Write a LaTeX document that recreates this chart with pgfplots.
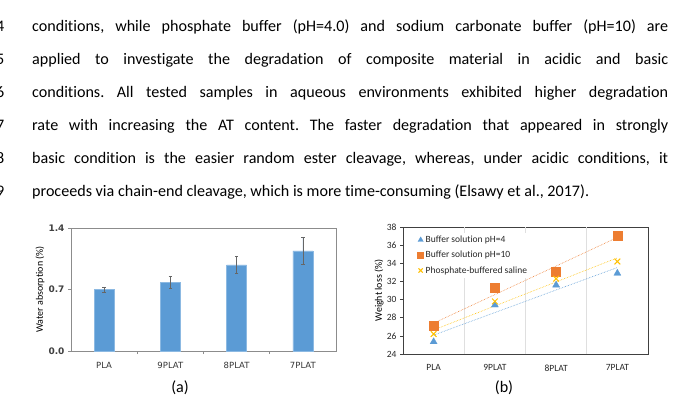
\documentclass[border=0pt]{standalone}
\usepackage{fontspec}
\setmainfont{Carlito}[Ligatures={NoCommon}]
\newfontfamily\dejavu{DejaVu Sans}
\usepackage{pgfplots}
\usepackage{pgfplotstable}
\pgfplotsset{compat=1.18}
\definecolor{xblue}{HTML}{5B9BD5}
\definecolor{xorange}{HTML}{ED7D31}
\definecolor{xyellow}{HTML}{FFC000}
\frenchspacing

\pgfplotstableread{
x y err
0 0.70 0.03
1 0.78 0.07
2 0.98 0.10
3 1.14 0.15
}\tableA

\pgfplotstableread{
x ph4 ph10 pbs
1 25.35 27.1 26.2
2 29.4 31.3 29.8
3 31.6 33.1 32.3
4 32.9 37.0 34.2
}\tableB

\newcommand{\bodyfont}{\fontsize{16.1bp}{19bp}\selectfont}
\newcommand{\lineat}[2]{\node[anchor=base west, inner sep=0pt] at (32bp,-#1bp) {\bodyfont\frenchspacing\makebox[636bp][s]{#2}};}

\begin{document}
\begin{tikzpicture}
\useasboundingbox (0,0) rectangle (681bp,-400bp);

% line numbers (left part cut off)
\foreach \n/\y in {54/31,55/64,56/97,57/130,58/163,59/196}{
  \node[anchor=base east, inner sep=0pt] at (4.5bp,-\y bp) {\bodyfont \n};
}
\lineat{31}{conditions, while phosphate buffer (pH=4.0) and sodium carbonate buffer (pH=10) are}
\lineat{64}{applied to investigate the degradation of composite material in acidic and basic}
\lineat{97}{conditions. All tested samples in aqueous environments exhibited higher degradation}
\lineat{130}{rate with increasing the AT content. The faster degradation that appeared in strongly}
\lineat{163}{basic condition is the easier random ester cleavage, whereas, under acidic conditions, it}
\node[anchor=base west, inner sep=0pt] at (32bp,-196bp) {\bodyfont\frenchspacing proceeds via chain-end cleavage, which is more time-consuming (Elsawy et al., 2017).};

% (a)
\begin{axis}[
  at={(71bp,-351bp)}, anchor=south west,
  scale only axis, width=265bp, height=123bp,
  xmin=-0.5, xmax=3.5, ymin=0, ymax=1.4,
  xtick={0,1,2,3}, xticklabels={PLA,9PLAT,8PLAT,7PLAT},
  major x tick style={draw=none},
  minor xtick={0.5,1.5,2.5},
  ytick={0,0.7,1.4}, yticklabels={0.0,0.7,1.4},
  tick pos=left, tick align=outside,
  major tick length=3bp, minor tick length=3bp,
  axis line style={draw=gray!90, line width=0.7pt},
  tick style={draw=gray!90, line width=0.6pt},
  /pgf/number format/assume math mode=true,
  tick label style={font=\dejavu\fontsize{8.5bp}{10bp}\selectfont, text=black!80},
  yticklabel style={font=\dejavu\fontsize{9bp}{10bp}\selectfont\bfseries, text=black!75},
  xticklabel style={yshift=-5bp},
  ylabel={Water absorption (\%)},
  ylabel style={font=\dejavu\fontsize{8.5bp}{10bp}\selectfont, text=black!80},
  every axis y label/.style={at={(axis description cs:-0.117,0.5)}, rotate=90, anchor=center},
]
\addplot[ybar, bar width=20bp, fill=xblue, draw=xblue!70!white,
  error bars/.cd, y dir=both, y explicit,
  error bar style={draw=black!60, line width=0.6pt},
  error mark options={rotate=90, mark size=1.8bp, draw=black!60}]
  table[x=x, y=y, y error=err] {\tableA};
\end{axis}

% (b)
\begin{axis}[
  at={(403bp,-354bp)}, anchor=south west,
  scale only axis, width=245bp, height=127bp,
  xmin=0.5, xmax=4.5, ymin=24, ymax=38,
  xtick={1,2,3,4}, xticklabels={PLA,9PLAT,8PLAT,7PLAT},
  major x tick style={draw=none},
  extra x ticks={1.5,2.5,3.5}, extra x tick labels={},
  extra x tick style={grid=major, major grid style={draw=gray!25, line width=0.6pt}, tick style={draw=none}},
  ytick={24,26,...,38},
  tick pos=left, tick align=outside,
  major tick length=3bp,
  axis line style={draw=black!75, line width=0.7pt},
  tick style={draw=black!75, line width=0.6pt},
  /pgf/number format/assume math mode=true,
  tick label style={font=\fontsize{9.5bp}{11bp}\selectfont, text=black!85},
  xticklabel style={yshift=-4bp},
  ylabel={Weight loss (\%)},
  ylabel style={font=\fontsize{9.5bp}{11bp}\selectfont, text=black!85},
  every axis y label/.style={at={(axis description cs:-0.098,0.5)}, rotate=90, anchor=center},
  legend style={at={(0.055,0.955)}, anchor=north west, draw=none, fill=white,
    font=\fontsize{9.5bp}{11bp}\selectfont, text=black!85, row sep=3.2bp, inner sep=1bp},
  legend cell align=left,
  mylegend/.style={legend image code/.code={\draw[mark repeat=2, mark phase=2, ##1, mark size=3bp] plot coordinates {(0bp,0bp)(6bp,0bp)(12bp,0bp)};}},
]
\addplot[xblue, densely dotted, line width=0.6pt, forget plot] table[x=x, y={create col/linear regression={y=ph4}}] {\tableB};
\addplot[xorange, densely dotted, line width=0.6pt, forget plot] table[x=x, y={create col/linear regression={y=ph10}}] {\tableB};
\addplot[xyellow, densely dotted, line width=0.6pt, forget plot] table[x=x, y={create col/linear regression={y=pbs}}] {\tableB};
\addplot[only marks, mark=triangle*, mark size=4bp, color=xblue, mylegend] table[x=x, y=ph4] {\tableB};
\addlegendentry{Buffer solution pH=4}
\addplot[only marks, mark=square*, mark size=4.5bp, color=xorange, mylegend] table[x=x, y=ph10] {\tableB};
\addlegendentry{Buffer solution pH=10}
\addplot[only marks, mark=x, mark size=4bp, line width=1pt, color=xyellow, mylegend] table[x=x, y=pbs] {\tableB};
\addlegendentry{Phosphate-buffered saline}
\end{axis}

\node[font=\bodyfont] at (180bp,-388bp) {(a)};
\node[font=\bodyfont] at (504bp,-388bp) {(b)};
\end{tikzpicture}
\end{document}
